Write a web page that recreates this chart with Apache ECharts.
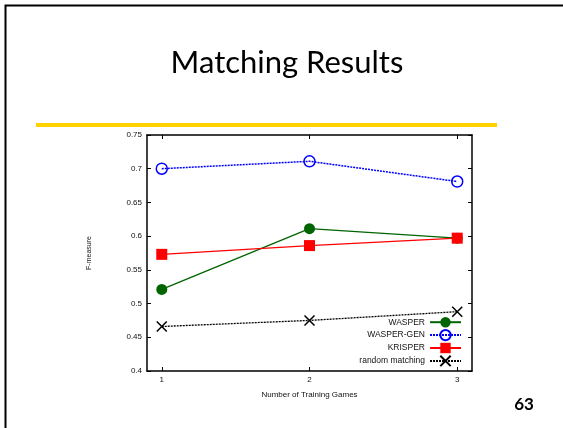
<!DOCTYPE html>
<html><head><meta charset="utf-8">
<script src="https://cdn.jsdelivr.net/npm/echarts@6/dist/echarts.min.js"></script>
<style>html,body{margin:0;padding:0;background:#fff}#c{width:563px;height:428px}</style>
</head><body><div id="c"></div>
<script>
const xValues = [1, 2, 3];
const wasper = [0.521, 0.611, 0.597];
const wasperGen = [0.700, 0.711, 0.681];
const krisper = [0.573, 0.586, 0.597];
const randomMatching = [0.466, 0.475, 0.488];
const yTicks = [0.4, 0.45, 0.5, 0.55, 0.6, 0.65, 0.7, 0.75];

const pts = arr => arr.map((v, i) => [xValues[i], v]);
const font = 'Liberation Sans, Arial, sans-serif';
const chart = echarts.init(document.getElementById('c'));
const crossPath = 'path://M0,0L10,10M10,0L0,10';
chart.setOption({
  animation: false,
  backgroundColor: '#fff',
  graphic: [
    {type: 'rect', shape: {x: 5.5, y: 5.5, width: 600, height: 500}, style: {fill: 'none', stroke: '#000', lineWidth: 2}},
    {type: 'rect', shape: {x: 36, y: 123, width: 461, height: 4}, style: {fill: '#FFD200'}},
    {type: 'text', x: 287, y: 63, style: {text: 'Matching Results', font: '31px Lato, "Open Sans", sans-serif', fill: '#000', align: 'center', verticalAlign: 'middle'}},
    {type: 'text', x: 524, y: 405, style: {text: '63', font: 'bold 17px Lato, "Open Sans", sans-serif', fill: '#000', align: 'center', verticalAlign: 'middle'}}
  ],
  grid: {left: 147, top: 135, right: 563 - 472, bottom: 428 - 371, containLabel: false},
  xAxis: [{
    type: 'value', min: 0.9, max: 3.1,
    name: 'Number of Training Games', nameLocation: 'middle', nameGap: 20,
    nameTextStyle: {fontFamily: font, fontSize: 8, color: '#111'},
    axisLine: {show: true, lineStyle: {color: '#000', width: 1.5}},
    axisTick: {inside: true, length: 4, customValues: xValues, lineStyle: {color: '#000'}},
    axisLabel: {customValues: xValues, fontFamily: font, fontSize: 8, color: '#111', margin: 5},
    splitLine: {show: false}
  }, {
    type: 'value', position: 'top', min: 0.9, max: 3.1,
    axisLine: {show: true, lineStyle: {color: '#000', width: 1.5}},
    axisTick: {inside: true, length: 4, customValues: xValues, lineStyle: {color: '#000'}},
    axisLabel: {show: false}, splitLine: {show: false}
  }],
  yAxis: [{
    type: 'value', min: 0.4, max: 0.75, interval: 0.05,
    name: 'F-measure', nameLocation: 'middle', nameGap: 54, nameRotate: 90,
    nameTextStyle: {fontFamily: font, fontSize: 7, color: '#111'},
    axisLine: {show: true, lineStyle: {color: '#000', width: 1.5}},
    axisTick: {inside: true, length: 4, customValues: yTicks, lineStyle: {color: '#000'}},
    axisLabel: {customValues: yTicks, fontFamily: font, fontSize: 8, color: '#111', margin: 5,
      formatter: v => String(+v.toFixed(2))},
    splitLine: {show: false}
  }, {
    type: 'value', position: 'right', min: 0.4, max: 0.75, interval: 0.05,
    axisLine: {show: true, lineStyle: {color: '#000', width: 1.5}},
    axisTick: {inside: true, length: 4, customValues: yTicks, lineStyle: {color: '#000'}},
    axisLabel: {show: false}, splitLine: {show: false}
  }],
  legend: {
    orient: 'vertical', right: 96, top: 312, align: 'right',
    itemWidth: 31, itemHeight: 13, itemGap: 0,
    textStyle: {fontFamily: font, fontSize: 8.5, color: '#111'},
    data: ['WASPER', 'WASPER-GEN', 'KRISPER', 'random matching']
  },
  series: [
    {name: 'WASPER', type: 'line', data: pts(wasper), symbol: 'circle', symbolSize: 11,
      lineStyle: {color: '#006400', width: 1.3}, itemStyle: {color: '#006400'}},
    {name: 'WASPER-GEN', type: 'line', data: pts(wasperGen), symbol: 'circle', symbolSize: 11,
      lineStyle: {color: '#0000ff', width: 1.5, type: [2, 1]},
      itemStyle: {color: 'none', borderColor: '#0000ff', borderWidth: 1.5}},
    {name: 'KRISPER', type: 'line', data: pts(krisper), symbol: 'rect', symbolSize: 11,
      lineStyle: {color: '#ff0000', width: 1.3}, itemStyle: {color: '#ff0000'}},
    {name: 'random matching', type: 'line', data: pts(randomMatching), symbol: crossPath, symbolSize: 10,
      lineStyle: {color: '#000', width: 1.3, type: [2, 1]},
      itemStyle: {color: 'none', borderColor: '#000', borderWidth: 1.5}}
  ]
});
</script></body></html>
